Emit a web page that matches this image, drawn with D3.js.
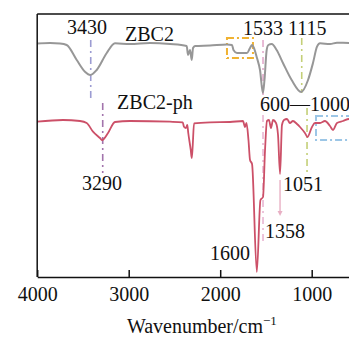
<!DOCTYPE html>
<html lang="en">

<head>
    <meta charset="UTF-8">
    <title>FTIR ZBC2</title>
    <style>
        body {
            margin: 0;
            background: white;
        }
    </style>
</head>

<body>
    <div id="chart"></div>
    <script src="https://cdn.jsdelivr.net/npm/d3@7/dist/d3.min.js"></script>
    <script>
        // spectra, wavenumber (cm-1) vs transmittance (a.u.)
        const wnGray = [4000, 3860, 3751, 3678, 3568, 3478, 3420, 3350, 3240, 3150, 2986, 2767, 2548, 2366, 2352, 2330, 2311, 2297, 2275, 2111, 1926, 1871, 1855, 1816, 1707, 1674, 1652, 1636, 1598, 1565, 1533, 1516, 1492, 1474, 1437, 1383, 1314, 1219, 1115, 1040, 986, 942, 909, 800, 724, 592, 400];
        const tGray = [233.5, 234, 233.5, 232, 217, 205.3, 202, 207, 224, 233.7, 233, 234, 233, 231, 222, 227, 217, 229, 231, 231.5, 232.5, 232, 227, 224, 224, 229, 232, 230, 219, 207, 184, 197, 227, 232, 233, 227, 214, 197, 185, 197, 214, 230.3, 233.7, 233, 234.3, 234, 234];

        const wnRed = [4000, 3718, 3532, 3459, 3390, 3314, 3290, 3226, 3150, 2986, 2549, 2410, 2396, 2374, 2360, 2349, 2322, 2311, 2301, 2286, 2111, 1893, 1751, 1729, 1713, 1691, 1674, 1652, 1600, 1560, 1532, 1510, 1489, 1467, 1445, 1423, 1390, 1368, 1346, 1325, 1303, 1270, 1238, 1205, 1161, 1128, 1074, 1046, 997, 964, 909, 855, 800, 767, 724, 658, 592, 400];
        const tRed = [155.3, 157, 156, 154, 145.3, 139, 137, 144, 155, 156, 155.3, 154.7, 150.3, 149, 152, 144, 127, 119, 130.3, 153.7, 154.7, 155, 156, 150, 154, 137, 117, 113, 5, 77, 80, 127, 156, 157, 149, 157, 154, 142, 103, 152, 157, 158, 154, 156, 153, 150, 144, 140, 150, 154, 154, 156, 151, 147, 154, 156, 158, 157];

        const xTicks = [4000, 3000, 2000, 1000];

        // annotation texts: [text, wavenumber, transmittance]
        const labels = [
            ["3430", 3674, 243],
            ["ZBC2", 3040, 236],
            ["1533 1115", 1751, 242],
            ["600\u20141000", 1565, 166],
            ["ZBC2-ph", 3127, 168],
            ["3290", 3510, 87],
            ["1051", 1314, 86],
            ["1358", 1510, 39],
            ["1600", 2111, 17]
        ];

        // marker lines: [wavenumber, from, to, colour]
        const markers = [
            [3415, 237, 177, "#9c9cd2"],
            [3284, 174, 104, "#a274ac"],
            [1532, 237, 182, "#e2aacb"],
            [1532, 162, 35, "#e8b6d2"],
            [1109, 239, 184, "#c4cf78"],
            [1051, 169, 105, "#c4cf78"]
        ];

        // boxed regions: [wn1, wn2, t1, t2, colour]
        const boxes = [
            [1926, 1642, 239, 219, "#f0b232"],
            [953, 450, 161, 137, "#9cc6e6"]
        ];

        const width = 349;
        const height = 338;
        const serif = "'Liberation Serif', 'Times New Roman', serif";

        const x = d3.scaleLinear()
            .domain([4000, 400])
            .range([37.2, 366.6]);

        const y = d3.scaleLinear()
            .domain([0, 263])
            .range([277, 14]);

        const svg = d3.select("#chart").append("svg")
            .attr("width", width)
            .attr("height", height);

        const line = d3.line()
            .x(d => x(d[0]))
            .y(d => y(d[1]))
            .curve(d3.curveMonotoneX);

        // boxes
        svg.append("g")
            .selectAll("rect")
            .data(boxes)
            .join("rect")
            .attr("x", d => x(d[0]))
            .attr("y", d => y(d[2]))
            .attr("width", d => x(d[1]) - x(d[0]))
            .attr("height", d => y(d[3]) - y(d[2]))
            .attr("fill", "none")
            .attr("stroke", d => d[4])
            .attr("stroke-width", 2)
            .attr("stroke-dasharray", "7,3,2,3");

        // marker lines
        svg.append("g")
            .selectAll("line")
            .data(markers)
            .join("line")
            .attr("x1", d => x(d[0]))
            .attr("x2", d => x(d[0]))
            .attr("y1", d => y(d[1]))
            .attr("y2", d => y(d[2]))
            .attr("stroke", d => d[3])
            .attr("stroke-width", 1.6)
            .attr("stroke-dasharray", "7,4,2,4");

        // 1358 arrow
        svg.append("line")
            .attr("x1", x(1346)).attr("x2", x(1346))
            .attr("y1", y(97)).attr("y2", y(64))
            .attr("stroke", "#e8b0c4")
            .attr("stroke-width", 1.4);
        svg.append("path")
            .attr("d", `M${x(1346) - 2.5},${y(66)}L${x(1346) + 2.5},${y(66)}L${x(1346)},${y(61)}Z`)
            .attr("fill", "#e8b0c4");

        svg.append("path")
            .datum(d3.zip(wnGray, tGray))
            .attr("fill", "none")
            .attr("stroke", "#979797")
            .attr("stroke-width", 2)
            .attr("d", line);

        svg.append("path")
            .datum(d3.zip(wnRed, tRed))
            .attr("fill", "none")
            .attr("stroke", "#cc5068")
            .attr("stroke-width", 1.8)
            .attr("stroke-linejoin", "round")
            .attr("d", line);

        // frame
        svg.append("line")
            .attr("x1", x(4000)).attr("x2", x(400))
            .attr("y1", y(263)).attr("y2", y(263))
            .attr("stroke", "#111").attr("stroke-width", 1.5);
        svg.append("line")
            .attr("x1", x(4000)).attr("x2", x(4000))
            .attr("y1", y(263)).attr("y2", y(0))
            .attr("stroke", "#111").attr("stroke-width", 1.5);

        const xAxis = svg.append("g")
            .attr("transform", `translate(0,${y(0)})`)
            .call(d3.axisBottom(x)
                .tickValues(xTicks)
                .tickFormat(d3.format("d"))
                .tickSizeInner(-7)
                .tickSizeOuter(0)
                .tickPadding(10));
        xAxis.select(".domain").attr("stroke", "#111").attr("stroke-width", 1.5);
        xAxis.selectAll(".tick line").attr("stroke", "#111").attr("stroke-width", 1.5);
        xAxis.selectAll("text")
            .style("font-family", serif)
            .style("font-size", "20px")
            .attr("fill", "#111");

        const title = svg.append("text")
            .attr("x", (x(4000) + x(400)) / 2)
            .attr("y", 333)
            .attr("text-anchor", "middle")
            .style("font-family", serif)
            .style("font-size", "20px")
            .attr("fill", "#111")
            .text("Wavenumber/cm");
        title.append("tspan")
            .attr("dy", -8)
            .style("font-size", "13px")
            .text("\u22121");

        svg.append("g")
            .selectAll("text")
            .data(labels)
            .join("text")
            .attr("x", d => x(d[1]))
            .attr("y", d => y(d[2]))
            .style("font-family", serif)
            .style("font-size", "20px")
            .attr("fill", "#111")
            .text(d => d[0]);
    </script>
</body>

</html>
